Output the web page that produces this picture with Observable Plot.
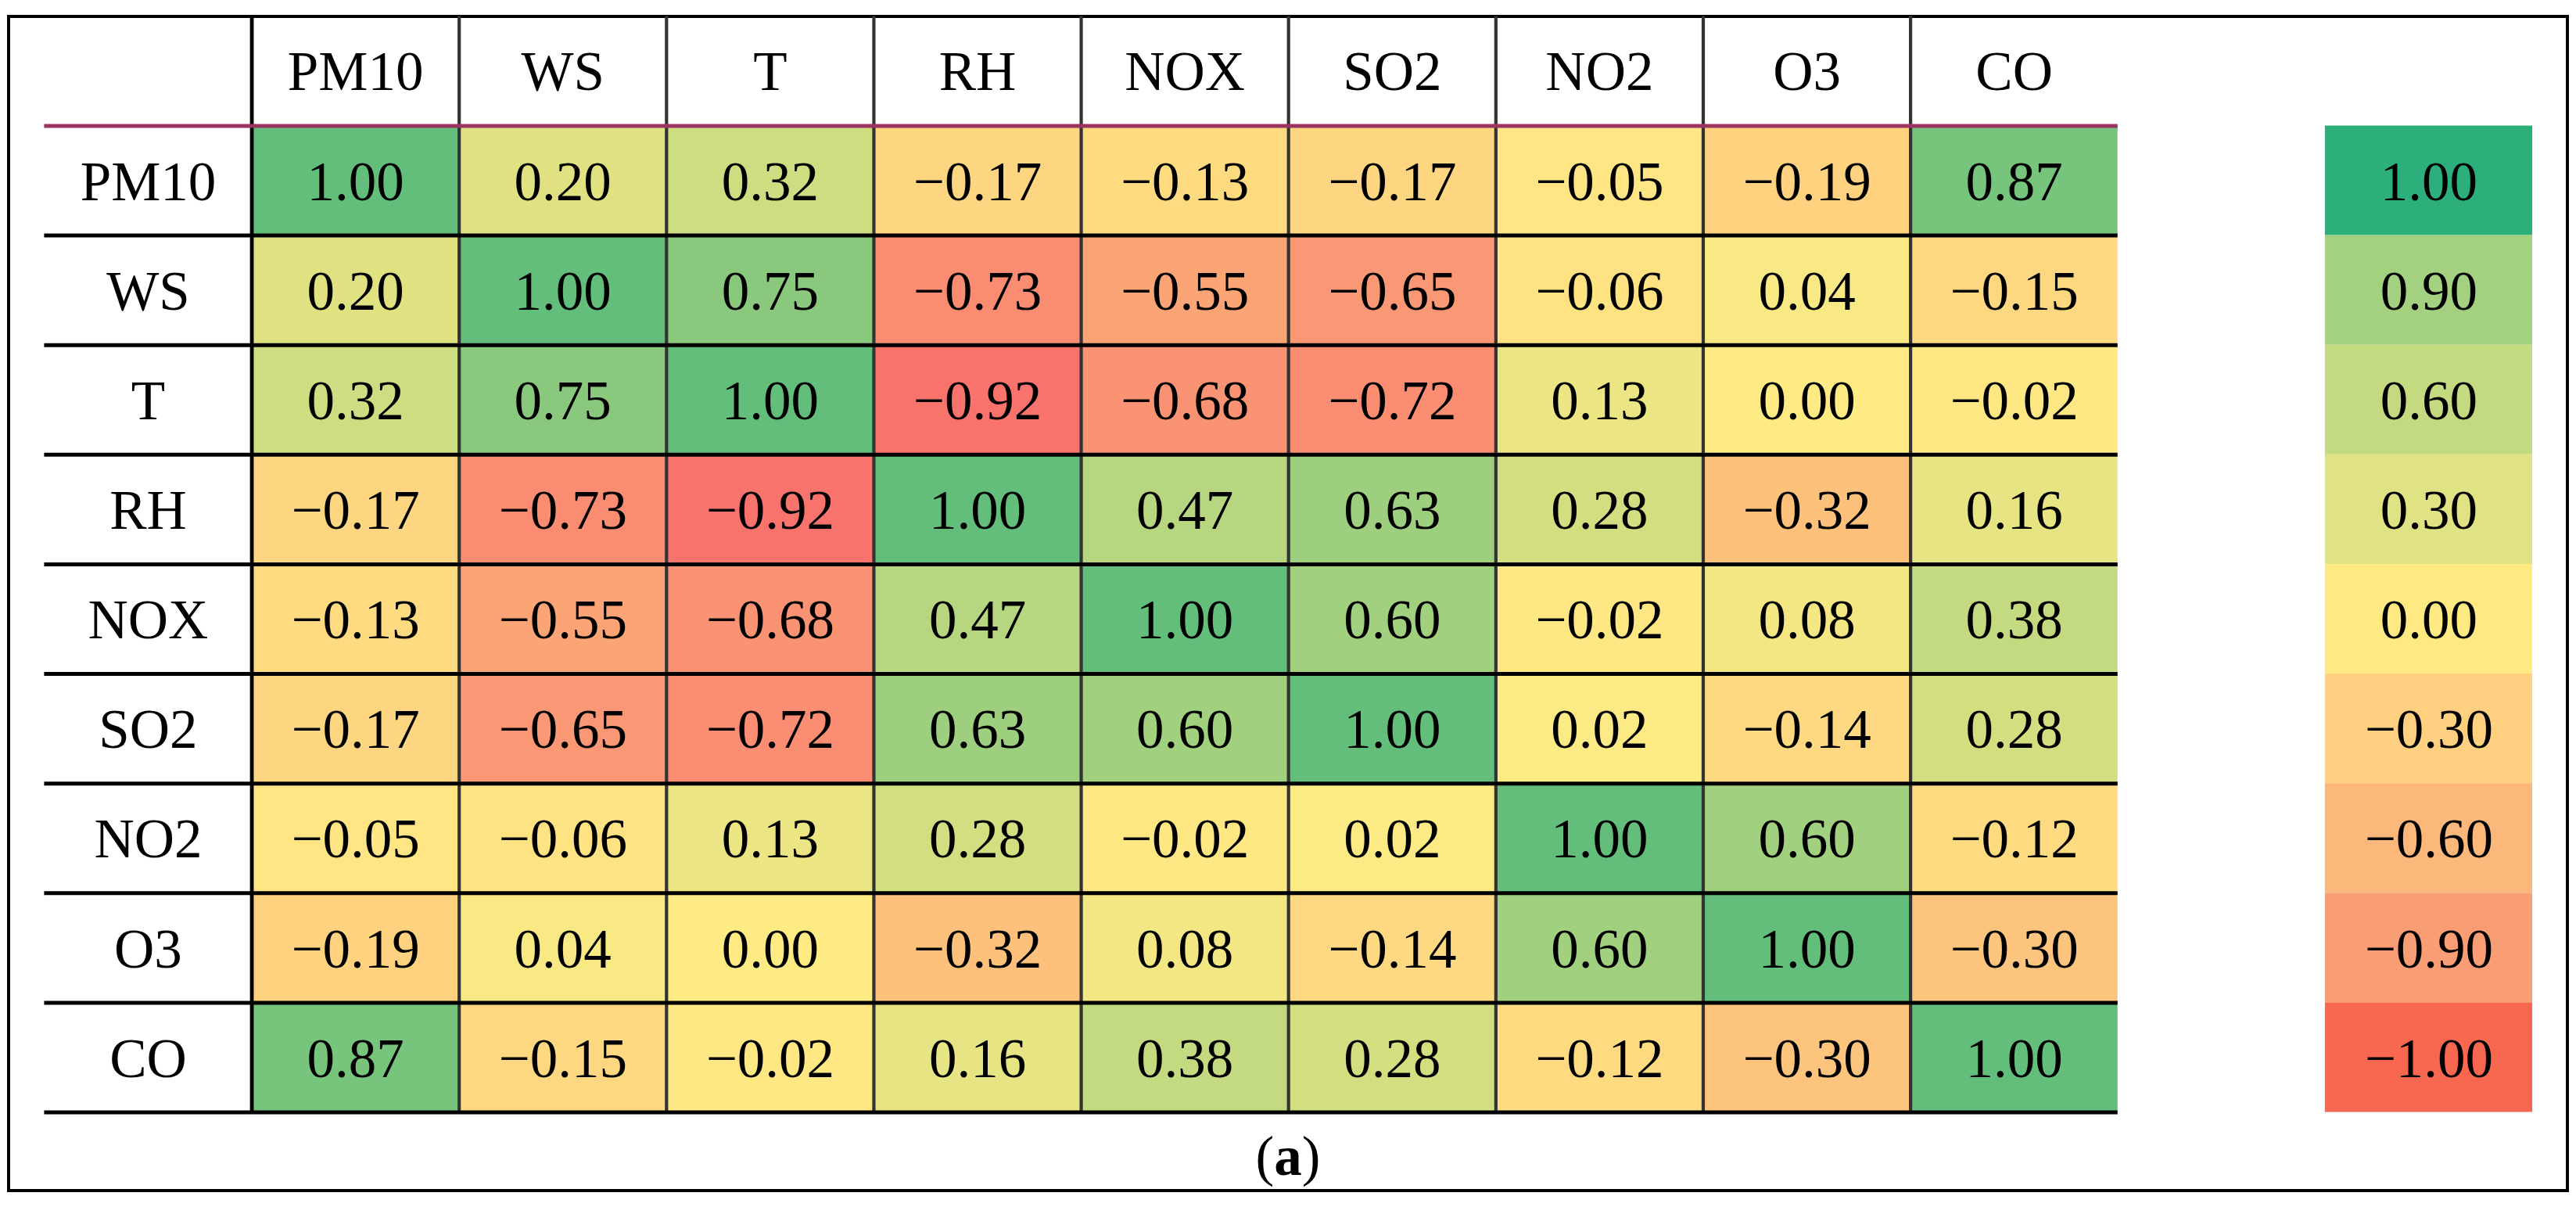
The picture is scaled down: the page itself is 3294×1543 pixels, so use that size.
<!DOCTYPE html>
<html>
<head>
<meta charset="utf-8">
<script src="https://cdn.jsdelivr.net/npm/d3@7"></script>
<script src="https://cdn.jsdelivr.net/npm/@observablehq/plot@0.6"></script>
<style>
html, body { margin: 0; padding: 0; background: #fff; }
#wrap { position: relative; width: 3294px; height: 1543px; overflow: hidden; }
#wrap svg { position: absolute; left: 0; top: 0; }
#border { position: absolute; left: 9px; top: 18.5px; width: 3276px; height: 1505.5px; border: 4.8px solid #000; box-sizing: border-box; }
#caption { position: absolute; left: 9px; width: 3276px; top: 1443px; text-align: center; font-family: "Liberation Serif", serif; font-size: 71px; line-height: 70px; color: #000; }
</style>
</head>
<body>
<div id="wrap">
  <div id="border"></div>
  <div id="caption">(<b>a</b>)</div>
</div>
<script>
// ---- data ----
const variables = ["PM10", "WS", "T", "RH", "NOX", "SO2", "NO2", "O3", "CO"];
const rowPM10 = [1.00, 0.20, 0.32, -0.17, -0.13, -0.17, -0.05, -0.19, 0.87];
const rowWS   = [0.20, 1.00, 0.75, -0.73, -0.55, -0.65, -0.06, 0.04, -0.15];
const rowT    = [0.32, 0.75, 1.00, -0.92, -0.68, -0.72, 0.13, 0.00, -0.02];
const rowRH   = [-0.17, -0.73, -0.92, 1.00, 0.47, 0.63, 0.28, -0.32, 0.16];
const rowNOX  = [-0.13, -0.55, -0.68, 0.47, 1.00, 0.60, -0.02, 0.08, 0.38];
const rowSO2  = [-0.17, -0.65, -0.72, 0.63, 0.60, 1.00, 0.02, -0.14, 0.28];
const rowNO2  = [-0.05, -0.06, 0.13, 0.28, -0.02, 0.02, 1.00, 0.60, -0.12];
const rowO3   = [-0.19, 0.04, 0.00, -0.32, 0.08, -0.14, 0.60, 1.00, -0.30];
const rowCO   = [0.87, -0.15, -0.02, 0.16, 0.38, 0.28, -0.12, -0.30, 1.00];
const values = [rowPM10, rowWS, rowT, rowRH, rowNOX, rowSO2, rowNO2, rowO3, rowCO];

const legendValues = [1.00, 0.90, 0.60, 0.30, 0.00, -0.30, -0.60, -0.90, -1.00];
const legendColors = ["#2CAF7A", "#A3D17F", "#C3DA81", "#DFE384", "#FEE983", "#FED07F", "#FCB77A", "#F99D75", "#F8674F"];

const colorStops = [-1, 0, 1];
const colorRange = ["#F8696B", "#FFEB84", "#63BE7B"];

// ---- helpers ----
const n = variables.length;
const fmt = v => (v < 0 ? "\u2212" : "") + Math.abs(v).toFixed(2);
const cells = variables.flatMap((r, ri) => variables.map((c, ci) => ({row: r, col: c, ri, ci, v: values[ri][ci]})));
const legend = legendValues.map((v, i) => ({v, i, color: legendColors[i]}));
const headerIndex = 0;
const legendIndex = n + 2; // label column, n variables, gap column, legend column

const common = {
  width: 3294,
  height: 1543,
  margin: 0,
  x: {type: "linear", domain: [0, n + 3], range: [56.4, 3238], axis: null},
  y: {type: "linear", domain: [0, n + 1], range: [20.4, 1421.5], axis: null},
  style: {background: "transparent", fontFamily: "'Liberation Serif', serif", maxWidth: "none", overflow: "visible"}
};

const main = Plot.plot({
  ...common,
  color: {type: "linear", domain: colorStops, range: colorRange, interpolate: "rgb"},
  marks: [
    Plot.rect(cells, {x1: d => d.ci + 1, x2: d => d.ci + 2, y1: d => d.ri + 1, y2: d => d.ri + 2, fill: "v"}),
    Plot.text(cells, {x: d => d.ci + 1.5, y: d => d.ri + 1.5, text: d => fmt(d.v), fontSize: 71, fill: "#000", dy: 2}),
    Plot.text(variables, {x: (d, i) => i + 1.5, y: () => headerIndex + 0.5, text: d => d, fontSize: 71, fill: "#000", dy: 1}),
    Plot.text(variables, {x: () => headerIndex + 0.5, y: (d, i) => i + 1.5, text: d => d, fontSize: 71, fill: "#000", dy: 2}),
    Plot.ruleX(d3.range(2, n + 1), {x: d => d, y1: headerIndex, y2: n + 1, stroke: "#333", strokeWidth: 4.2}),
    Plot.ruleX([1], {x: d => d, y1: headerIndex, y2: n + 1, stroke: "#000", strokeWidth: 4.8}),
    Plot.ruleY(d3.range(2, n + 2), {y: d => d, x1: 0, x2: n + 1, stroke: "#000", strokeWidth: 5}),
    Plot.ruleY([1], {y: d => d, x1: 0, x2: n + 1, stroke: "#993463", strokeWidth: 5})
  ]
});

const legendPlot = Plot.plot({
  ...common,
  color: {type: "identity"},
  marks: [
    Plot.rect(legend, {x1: () => legendIndex, x2: () => legendIndex + 1, y1: d => d.i + 1, y2: d => d.i + 2, fill: "color"}),
    Plot.text(legend, {x: () => legendIndex + 0.5, y: d => d.i + 1.5, text: d => fmt(d.v), fontSize: 71, fill: "#000", dy: 2})
  ]
});

const wrap = document.getElementById("wrap");
wrap.appendChild(main);
wrap.appendChild(legendPlot);
</script>
</body>
</html>
